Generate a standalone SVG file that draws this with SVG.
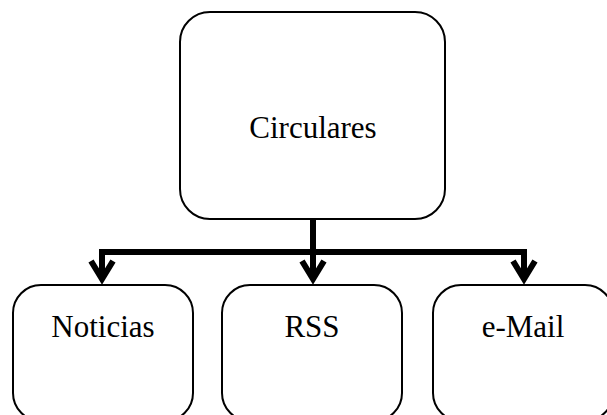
<svg xmlns="http://www.w3.org/2000/svg" width="607" height="415" viewBox="0 0 607 415">
  <style>
    .box { fill: #ffffff; stroke: #000000; stroke-width: 2; }
    .label { font-family: 'Liberation Serif', 'Times New Roman', Times, serif; font-size: 31px; fill: #000000; text-anchor: middle; }
    .wire { fill: none; stroke: #000000; stroke-width: 6; }
    .head { fill: none; stroke: #000000; stroke-width: 6; stroke-linejoin: miter; }
  </style>
  <rect width="607" height="415" fill="#ffffff"/>

  <g id="connectors">
    <path class="wire" d="M313,219 V252 M102,252 H524 M102,249 V278 M313,252 V278 M524,249 V278"/>
    <polyline class="head" points="91,261 102,279 113,261"/>
    <polyline class="head" points="302,261 313,279 324,261"/>
    <polyline class="head" points="513,261 524,279 535,261"/>
  </g>

  <g id="circulares">
    <rect class="box" x="180" y="12" width="265" height="207" rx="30" ry="30"/>
    <text class="label" x="313" y="138">Circulares</text>
  </g>

  <g id="noticias">
    <rect class="box" x="13" y="285" width="180" height="136" rx="28" ry="28"/>
    <text class="label" x="103" y="337">Noticias</text>
  </g>

  <g id="rss">
    <rect class="box" x="222" y="285" width="180" height="136" rx="28" ry="28"/>
    <text class="label" x="312" y="337">RSS</text>
  </g>

  <g id="email">
    <rect class="box" x="433" y="285" width="180" height="136" rx="28" ry="28"/>
    <text class="label" x="523" y="337">e-Mail</text>
  </g>
</svg>
